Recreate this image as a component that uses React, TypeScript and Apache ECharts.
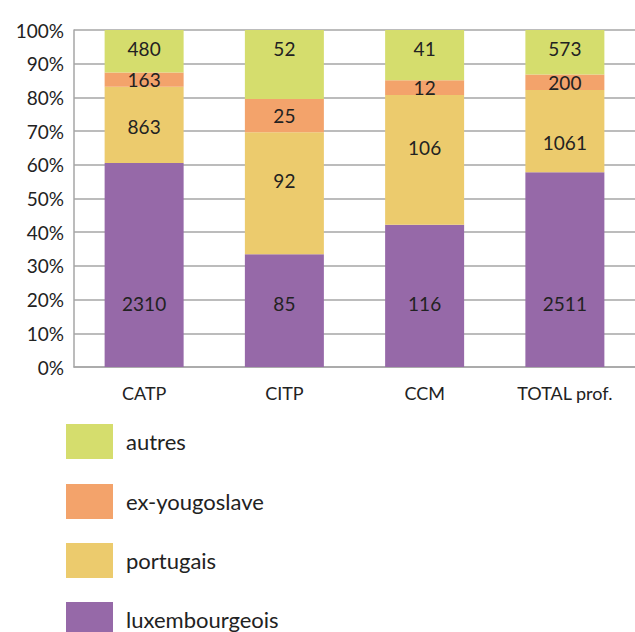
import React, { useEffect, useRef } from "react";
import * as echarts from "echarts";

const categories = ["CATP", "CITP", "CCM", "TOTAL prof."];
const luxembourgeois = [2310, 85, 116, 2511];
const portugais = [863, 92, 106, 1061];
const exYougoslave = [163, 25, 12, 200];
const autres = [480, 52, 41, 573];
const legendOrder = ["autres", "ex-yougoslave", "portugais", "luxembourgeois"];

const FONT = "Lato";

const seriesDefs = [
  {
    name: "luxembourgeois",
    values: luxembourgeois,
    color: "#9669A8",
    label: { position: "insideBottom", distance: 54 },
    offsets: null as null | number[][],
  },
  {
    name: "portugais",
    values: portugais,
    color: "#ECCB6D",
    label: { position: "inside" },
    offsets: [[0, 2], [0, -13], [0, -12], [0, 11]],
  },
  {
    name: "ex-yougoslave",
    values: exYougoslave,
    color: "#F3A36B",
    label: { position: "inside" },
    offsets: null,
  },
  {
    name: "autres",
    values: autres,
    color: "#D5DD6D",
    label: { position: "insideTop", distance: 9 },
    offsets: null,
  },
];

const totals = categories.map((_, i) =>
  seriesDefs.reduce((s, d) => s + d.values[i], 0)
);

const legendTops = [424, 484, 543, 602];

export default function App() {
  const ref = useRef<HTMLDivElement>(null);
  useEffect(() => {
    const chart = echarts.init(ref.current!, null, { renderer: "svg" });
    chart.setOption({
      animation: false,
      textStyle: { fontFamily: FONT },
      grid: { left: 74, right: 0, top: 30, bottom: 265 },
      legend: legendOrder.map((name, i) => ({
        orient: "vertical",
        left: 66,
        top: legendTops[i],
        padding: 0,
        itemWidth: 47,
        itemHeight: 35,
        icon: "rect",
        data: [name],
        textStyle: { fontSize: 22, color: "#222", fontFamily: FONT, padding: [0, 0, 0, 8] },
      })),
      xAxis: {
        type: "category",
        data: categories,
        axisLine: { show: true, lineStyle: { color: "#a6a6a6", width: 1.5 } },
        axisTick: { show: false },
        axisLabel: { fontSize: 18, color: "#222", margin: 17, fontFamily: FONT },
      },
      yAxis: {
        type: "value",
        min: 0,
        max: 100,
        interval: 10,
        axisLine: { show: true, lineStyle: { color: "#a6a6a6", width: 1.5 } },
        axisTick: { show: false },
        axisLabel: { formatter: "{value}%", fontSize: 19, color: "#222", margin: 10, fontFamily: FONT },
        splitLine: { show: true, lineStyle: { color: "#a6a6a6", width: 1.5 } },
      },
      series: seriesDefs.map((d) => ({
        name: d.name,
        type: "bar",
        stack: "total",
        barWidth: 79,
        itemStyle: { color: d.color },
        data: d.values.map((v, i) => {
          const item: any = { value: (v / totals[i]) * 100, raw: v };
          if (d.offsets) item.label = { offset: d.offsets[i] };
          return item;
        }),
        label: {
          show: true,
          ...d.label,
          fontSize: 19,
          color: "#222",
          fontFamily: FONT,
          formatter: (p: any) => String(p.data.raw),
        },
      })),
    });
    return () => chart.dispose();
  }, []);
  return <div ref={ref} style={{ width: 635, height: 632, position: "absolute", left: 0, top: 0 }} />;
}
